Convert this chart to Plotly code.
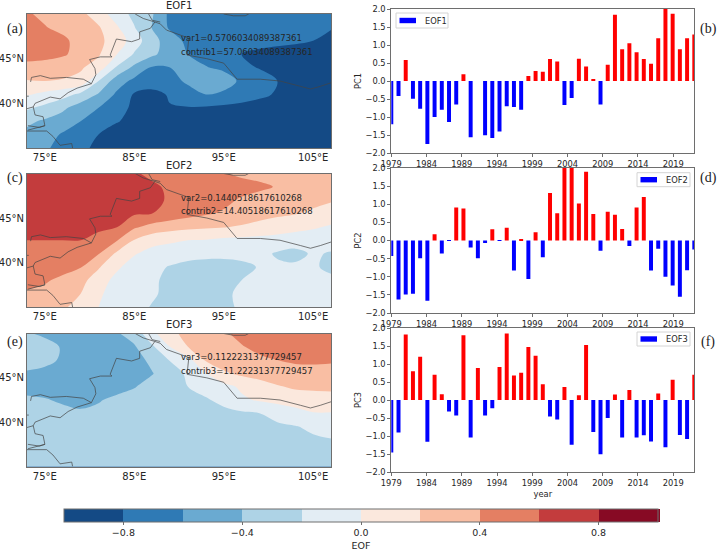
import plotly.graph_objects as go

W, H = 719, 551
FONT = "DejaVu Sans"

# Grid of the EOF loading fields
LON = [73, 75, 77, 79, 81, 83, 85, 87, 89, 91, 93, 95, 97, 99, 101, 103, 105, 107]
LAT = [50, 48.5, 47, 45.5, 44, 42.5, 41, 39.5, 38, 36.5, 35]

EOF1_FIELD = [
    [.42, .36, .33, .25, .10, -.10, -.25, -.38, -.65, -.70, -.70, -.71, -.72, -.72, -.73, -.74, -.76, -.78],
    [.48, .41, .35, .30, .22, .03, -.19, -.41, -.63, -.70, -.71, -.72, -.72, -.73, -.74, -.76, -.78, -.79],
    [.50, .47, .44, .33, .24, .12, -.10, -.33, -.50, -.65, -.70, -.72, -.73, -.74, -.76, -.78, -.80, -.84],
    [.47, .46, .43, .32, .22, .01, -.22, -.36, -.50, -.60, -.66, -.72, -.80, -.84, -.86, -.86, -.86, -.86],
    [.34, .32, .25, .22, .12, -.22, -.45, -.62, -.60, -.55, -.59, -.64, -.76, -.81, -.87, -.90, -.90, -.90],
    [.19, .20, .19, .15, -.20, -.50, -.65, -.70, -.68, -.56, -.50, -.50, -.64, -.72, -.80, -.90, -.92, -.92],
    [.02, -.05, -.12, -.25, -.42, -.63, -.82, -.86, -.78, -.69, -.60, -.64, -.70, -.76, -.82, -.92, -.94, -.94],
    [-.17, -.25, -.36, -.50, -.60, -.74, -.83, -.85, -.81, -.81, -.82, -.84, -.86, -.88, -.90, -.92, -.94, -.95],
    [-.36, -.43, -.50, -.60, -.72, -.79, -.84, -.87, -.88, -.89, -.90, -.90, -.91, -.92, -.93, -.94, -.95, -.95],
    [-.45, -.52, -.62, -.72, -.80, -.86, -.88, -.90, -.91, -.92, -.92, -.93, -.93, -.94, -.94, -.95, -.95, -.95],
    [-.50, -.57, -.67, -.76, -.84, -.88, -.90, -.92, -.93, -.93, -.94, -.94, -.95, -.95, -.95, -.95, -.95, -.95],
]

EOF2_FIELD = [
    [.72, .74, .76, .76, .75, .72, .62, .56, .55, .53, .50, .41, .37, .35, .34, .33, .32, .30],
    [.74, .75, .76, .76, .75, .73, .68, .63, .57, .53, .50, .48, .46, .43, .39, .36, .33, .30],
    [.74, .75, .76, .76, .74, .72, .68, .64, .58, .50, .47, .44, .38, .34, .31, .28, .26, .22],
    [.72, .72, .72, .72, .70, .68, .62, .60, .53, .47, .42, .38, .33, .28, .24, .21, .16, .10],
    [.67, .67, .66, .65, .63, .61, .43, .33, .28, .25, .23, .21, .18, .13, .09, .05, .02, -.02],
    [.60, .60, .60, .60, .55, .42, .19, .08, .04, .00, -.01, -.04, -.05, -.06, -.07, -.08, -.09, -.10],
    [.55, .55, .52, .48, .41, .17, .02, -.08, -.12, -.14, -.15, -.16, -.15, -.15, -.22, -.27, -.17, -.22],
    [.52, .50, .46, .41, .22, .04, -.10, -.16, -.21, -.25, -.27, -.26, -.24, -.19, -.17, -.16, -.16, -.27],
    [.45, .42, .36, .26, .10, -.06, -.13, -.18, -.23, -.27, -.28, -.26, -.20, -.16, -.14, -.13, -.13, -.13],
    [.38, .35, .30, .20, .03, -.08, -.13, -.18, -.24, -.27, -.26, -.22, -.18, -.15, -.13, -.12, -.12, -.12],
    [.30, .28, .24, .10, .00, -.08, -.15, -.21, -.25, -.27, -.26, -.23, -.18, -.15, -.13, -.12, -.12, -.12],
]

EOF3_FIELD = [
    [-.39, -.42, -.46, -.48, -.47, -.42, -.32, -.05, .14, .27, .33, .38, .44, .47, .49, .50, .50, .50],
    [-.32, -.36, -.41, -.46, -.48, -.47, -.42, -.23, .00, .20, .27, .33, .39, .44, .47, .48, .49, .50],
    [-.33, -.36, -.42, -.47, -.49, -.50, -.48, -.35, -.19, -.07, .22, .30, .34, .37, .40, .42, .42, .41],
    [-.42, -.44, -.46, -.48, -.50, -.50, -.47, -.41, -.28, -.17, -.01, .17, .24, .29, .33, .35, .36, .37],
    [-.44, -.46, -.47, -.48, -.47, -.45, -.41, -.33, -.28, -.20, -.13, -.06, .03, .10, .18, .23, .24, .24],
    [-.38, -.39, -.42, -.44, -.41, -.37, -.33, -.30, -.28, -.26, -.22, -.15, -.03, .02, .06, .09, .11, .13],
    [-.35, -.35, -.36, -.38, -.37, -.34, -.32, -.30, -.29, -.28, -.27, -.25, -.23, -.20, -.14, -.07, -.01, -.01],
    [-.33, -.33, -.33, -.33, -.33, -.32, -.31, -.30, -.30, -.29, -.28, -.27, -.26, -.25, -.23, -.21, -.16, -.11],
    [-.32, -.32, -.32, -.32, -.32, -.32, -.31, -.31, -.31, -.30, -.30, -.30, -.29, -.29, -.28, -.26, -.23, -.21],
    [-.31, -.31, -.31, -.31, -.31, -.31, -.31, -.31, -.31, -.31, -.31, -.30, -.30, -.30, -.30, -.29, -.28, -.27],
    [-.31, -.31, -.31, -.31, -.31, -.31, -.31, -.31, -.31, -.31, -.31, -.31, -.31, -.30, -.30, -.30, -.30, -.29],
]

# Administrative borders crossing the map window, as (lon, lat) polylines
BORDERS = [
    ([73.4, 73.5, 74.5, 75.6, 77.4, 79.3, 80.2, 80.7, 80.6, 80.0, 81.2, 82.5, 82.3, 83.0, 84.7, 85.6, 85.6, 86.8, 87.3],
     [42.4, 42.9, 43.1, 42.8, 42.9, 42.7, 42.2, 43.2, 43.9, 44.9, 45.2, 45.2, 45.4, 47.2, 46.9, 47.2, 48.0, 48.4, 49.1]),
    ([85.1, 86.0, 87.3, 87.9, 88.6, 89.8, 91.1, 90.9, 93.1, 95.0, 95.7, 96.5, 99.1, 101.3, 103.6, 104.7, 105.8, 107.0],
     [50.0, 49.5, 49.1, 48.9, 48.2, 47.8, 47.3, 45.4, 45.0, 44.5, 43.7, 42.7, 42.7, 42.5, 41.9, 41.6, 41.9, 42.3]),
    ([86.6, 87.0, 87.9], [50.0, 49.3, 49.1]),
    ([95.0, 96.1, 97.4, 97.8], [50.0, 49.8, 49.8, 50.0]),
    ([80.2, 78.6, 77.6, 76.7, 75.6, 74.8, 73.9, 73.7, 73.0],
     [42.2, 41.7, 41.2, 40.5, 40.7, 40.4, 40.0, 39.6, 39.4]),
    ([73.0, 73.2], [40.8, 40.8]),
    ([73.7, 73.9, 74.8, 75.0, 74.4, 73.1], [39.6, 38.7, 38.5, 37.5, 37.3, 37.5]),
    ([73.0, 74.5, 75.2, 75.9, 76.7, 78.0, 78.1], [36.9, 36.9, 36.9, 36.3, 35.3, 35.5, 35.0]),
    ([75.0, 73.1], [37.5, 37.0]),
]

# Principal component time series
YEARS = list(range(1979, 2022))
PC1 = [-1.20, -.42, .58, -.49, -.77, -1.75, -1.00, -.80, -1.14, -.65, .19, -1.56, 0, -1.51, -1.58,
       -1.40, -.70, -.72, -.80, .14, .28, .26, .61, .54, -.67, -.47, .62, .40, .04, -.65, .45,
       1.84, .88, 1.05, .80, .61, .48, 1.19, 2.05, 1.87, .88, 1.19, 1.29]
PC2 = [-.43, -1.63, -1.49, -1.47, -.49, -1.66, .17, -.36, -.01, .91, .88, -.19, -.49, -.07, .31,
       -.01, .35, -.83, .02, -1.06, .23, -.46, 1.31, .75, 2.05, 2.05, 1.02, 1.90, .73, -.28, .79,
       .71, .32, -.15, .91, 1.20, -.83, -.23, -1.00, -1.24, -1.55, -.82, -.25]
PC3 = [-1.46, -.90, 1.82, .80, 1.20, -1.16, .70, .16, -.32, -.43, 1.80, -1.04, .89, -.43, -.23,
       .92, 1.85, .68, .76, 1.47, 1.23, .44, -.46, -.54, .36, -1.24, .13, 1.53, -.89, -1.51, -.50,
       .15, -1.04, .28, -1.04, -.98, -1.15, .18, -1.31, .56, -.97, -1.08, .70]

VAR_TEXT = ["var1=0.5706034089387361", "var2=0.1440518617610268", "var3=0.1122231377729457"]
CONTRIB_TEXT = ["contrib1=57.06034089387361", "contrib2=14.40518617610268", "contrib3=11.22231377729457"]
TITLES = ["EOF1", "EOF2", "EOF3"]
TICK_LABELS = ["1979", "1984", "1989", "1994", "1999", "2004", "2009", "2014", "2019"]
# The labelled ticks sit on an even grid slightly narrower than five bars
TICK_POS = [1979, 1983.885, 1988.77, 1993.655, 1998.54, 2003.425, 2008.31, 2013.195, 2018.08]

BAND_COLORS = ["#144a85", "#2f7ab5", "#6aaad1", "#aed3e6", "#e3edf4",
               "#fbe8dd", "#f9bea3", "#e47f63", "#c33c3d", "#870a24"]

stepped = []
for i, c in enumerate(BAND_COLORS):
    stepped += [[i / 10, c], [(i + 1) / 10, c]]


def xdom(a, b):
    return [a / W, b / W]


def ydom(top, bottom):
    return [1 - bottom / H, 1 - top / H]


def page_text(text, x, y, size, family=FONT, color="#262626", xanchor="center"):
    """Text placed by page pixels, measured from the top-left corner."""
    return dict(text=text, x=x / W, y=1 - y / H, xref="paper", yref="paper",
                xanchor=xanchor, yanchor="middle", showarrow=False,
                font=dict(family=family, size=size, color=color))


MAP_ROWS = [(14, 148), (173.5, 307), (333.5, 466.5)]
BAR_ROWS = [(9, 153), (168, 313), (328, 472)]
MAP_X = (27, 331)
BAR_X = (391.3, 694.3)
SPINE = "#6e6e6e"

fig = go.Figure()
layout = dict(
    width=W, height=H, autosize=False,
    margin=dict(l=0, r=0, t=0, b=0, autoexpand=False),
    paper_bgcolor="white", plot_bgcolor="white",
    showlegend=False,
    font=dict(family=FONT, size=8.3, color="#262626"),
    annotations=[], shapes=[],
)

fields = [EOF1_FIELD, EOF2_FIELD, EOF3_FIELD]
series = [PC1, PC2, PC3]
map_letters = ["(a)", "(c)", "(e)"]
bar_letters = ["(b)", "(d)", "(f)"]
legend_boxes = [
    (396, 448, 13, 28), (637, 690, 172.7, 186.7), (637, 690, 332, 346),
]
title_y = [5.5, 165, 324.5]
letter_y = [29, 178, 342]

for r in range(3):
    mx, my = 2 * r + 1, 2 * r + 1
    bx, by = 2 * r + 2, 2 * r + 2
    xa = lambda n: "x" if n == 1 else f"x{n}"
    ya = lambda n: "y" if n == 1 else f"y{n}"
    key = lambda base, n: base if n == 1 else f"{base}{n}"

    contour = dict(
        x=LON, y=LAT, z=fields[r], xaxis=xa(mx), yaxis=ya(my),
        zmin=-1, zmax=1, autocontour=False, colorscale=stepped,
        contours=dict(start=-1, end=1, size=0.2, coloring="fill", showlines=False),
        line=dict(width=0, smoothing=1.0), hoverinfo="skip", showscale=False,
    )
    if r == 0:
        contour.update(
            showscale=True,
            colorbar=dict(
                orientation="h", x=64 / W, xanchor="left", y=1 - 509 / H, yanchor="top",
                lenmode="pixels", len=594, thicknessmode="pixels", thickness=13,
                xpad=0, ypad=0, outlinecolor=SPINE, outlinewidth=1,
                tickmode="array", tickvals=[-.8, -.4, 0, .4, .8],
                ticktext=["−0.8", "−0.4", "0.0", "0.4", "0.8"],
                ticks="outside", ticklen=3, tickcolor=SPINE,
                tickfont=dict(family=FONT, size=9.5, color="#262626"),
                title=dict(text="EOF", side="bottom", font=dict(family=FONT, size=9.5, color="#262626")),
            ),
        )
    fig.add_trace(go.Contour(**contour))

    for lons, lats in BORDERS:
        fig.add_trace(go.Scatter(
            x=lons, y=lats, xaxis=xa(mx), yaxis=ya(my), mode="lines",
            line=dict(color="#444444", width=0.7), hoverinfo="skip",
        ))

    values = series[r]
    fig.add_trace(go.Bar(
        x=YEARS, y=values, xaxis=xa(bx), yaxis=ya(by), width=0.55,
        marker=dict(color=["red" if v > 0 else "blue" for v in values], line=dict(width=0)),
        name=TITLES[r],
    ))

    layout[key("xaxis", mx)] = dict(
        domain=xdom(*MAP_X), range=[73, 107], anchor=ya(my), showgrid=False, zeroline=False,
        tickmode="array", tickvals=[75, 85, 95, 105], ticktext=["75°E", "85°E", "95°E", "105°E"],
        ticks="", tickfont=dict(family=FONT, size=10, color="#262626"),
        mirror=True, showline=True, linecolor=SPINE, linewidth=1,
    )
    layout[key("yaxis", my)] = dict(
        domain=ydom(*MAP_ROWS[r]), range=[35, 50], anchor=xa(mx), showgrid=False, zeroline=False,
        tickmode="array", tickvals=[40, 45], ticktext=["40°N", "45°N"],
        ticks="", tickfont=dict(family=FONT, size=10, color="#262626"),
        mirror=True, showline=True, linecolor=SPINE, linewidth=1,
    )
    layout[key("xaxis", bx)] = dict(
        domain=xdom(*BAR_X), range=[1979, 2021], anchor=ya(by), showgrid=False, zeroline=False,
        tickmode="array", tickvals=TICK_POS, ticktext=TICK_LABELS,
        ticks="outside", ticklen=3, tickcolor=SPINE,
        tickfont=dict(family=FONT, size=8.3, color="#262626"),
        mirror=True, showline=True, linecolor=SPINE, linewidth=1,
    )
    if r == 2:
        layout[key("xaxis", bx)]["title"] = dict(text="year", standoff=4, font=dict(family=FONT, size=8.3))
    layout[key("yaxis", by)] = dict(
        domain=ydom(*BAR_ROWS[r]), range=[-2, 2], anchor=xa(bx), showgrid=False, zeroline=False,
        tickmode="array", tickvals=[-2, -1.5, -1, -.5, 0, .5, 1, 1.5, 2],
        tickformat=".1f", ticks="outside", ticklen=3, tickcolor=SPINE,
        tickfont=dict(family=FONT, size=8.3, color="#262626"),
        title=dict(text=f"PC{r + 1}", standoff=2, font=dict(family=FONT, size=8.3)),
        mirror=True, showline=True, linecolor=SPINE, linewidth=1,
    )

    layout["annotations"] += [
        page_text(TITLES[r], 179, title_y[r], 10),
        dict(text=VAR_TEXT[r], x=90, y=47.3, xref=xa(mx), yref=ya(my), xanchor="left", yanchor="middle",
             showarrow=False, font=dict(family=FONT, size=8.5, color="#262626")),
        dict(text=CONTRIB_TEXT[r], x=90, y=45.8, xref=xa(mx), yref=ya(my), xanchor="left", yanchor="middle",
             showarrow=False, font=dict(family=FONT, size=8.5, color="#262626")),
        page_text(map_letters[r], 15, letter_y[r], 14, family="Liberation Serif", color="#222222"),
        page_text(bar_letters[r], 708, letter_y[r], 14, family="Liberation Serif", color="#222222"),
    ]

    # Legend frame with a wide blue patch, as the bars' key
    x0, x1, y0, y1 = legend_boxes[r]
    ymid = (y0 + y1) / 2
    layout["shapes"] += [
        dict(type="rect", xref="paper", yref="paper", x0=x0 / W, x1=x1 / W,
             y0=1 - y1 / H, y1=1 - y0 / H, line=dict(color="#d4d4d4", width=1),
             fillcolor="rgba(255,255,255,0.85)"),
        dict(type="rect", xref="paper", yref="paper", x0=(x0 + 3.5) / W, x1=(x0 + 20) / W,
             y0=1 - (ymid + 2.7) / H, y1=1 - (ymid - 2.7) / H, line=dict(width=0), fillcolor="blue"),
    ]
    layout["annotations"].append(page_text(TITLES[r], x0 + 27, ymid, 8.3, xanchor="left"))

fig.update_layout(**layout)
fig.write_html("out.html")
